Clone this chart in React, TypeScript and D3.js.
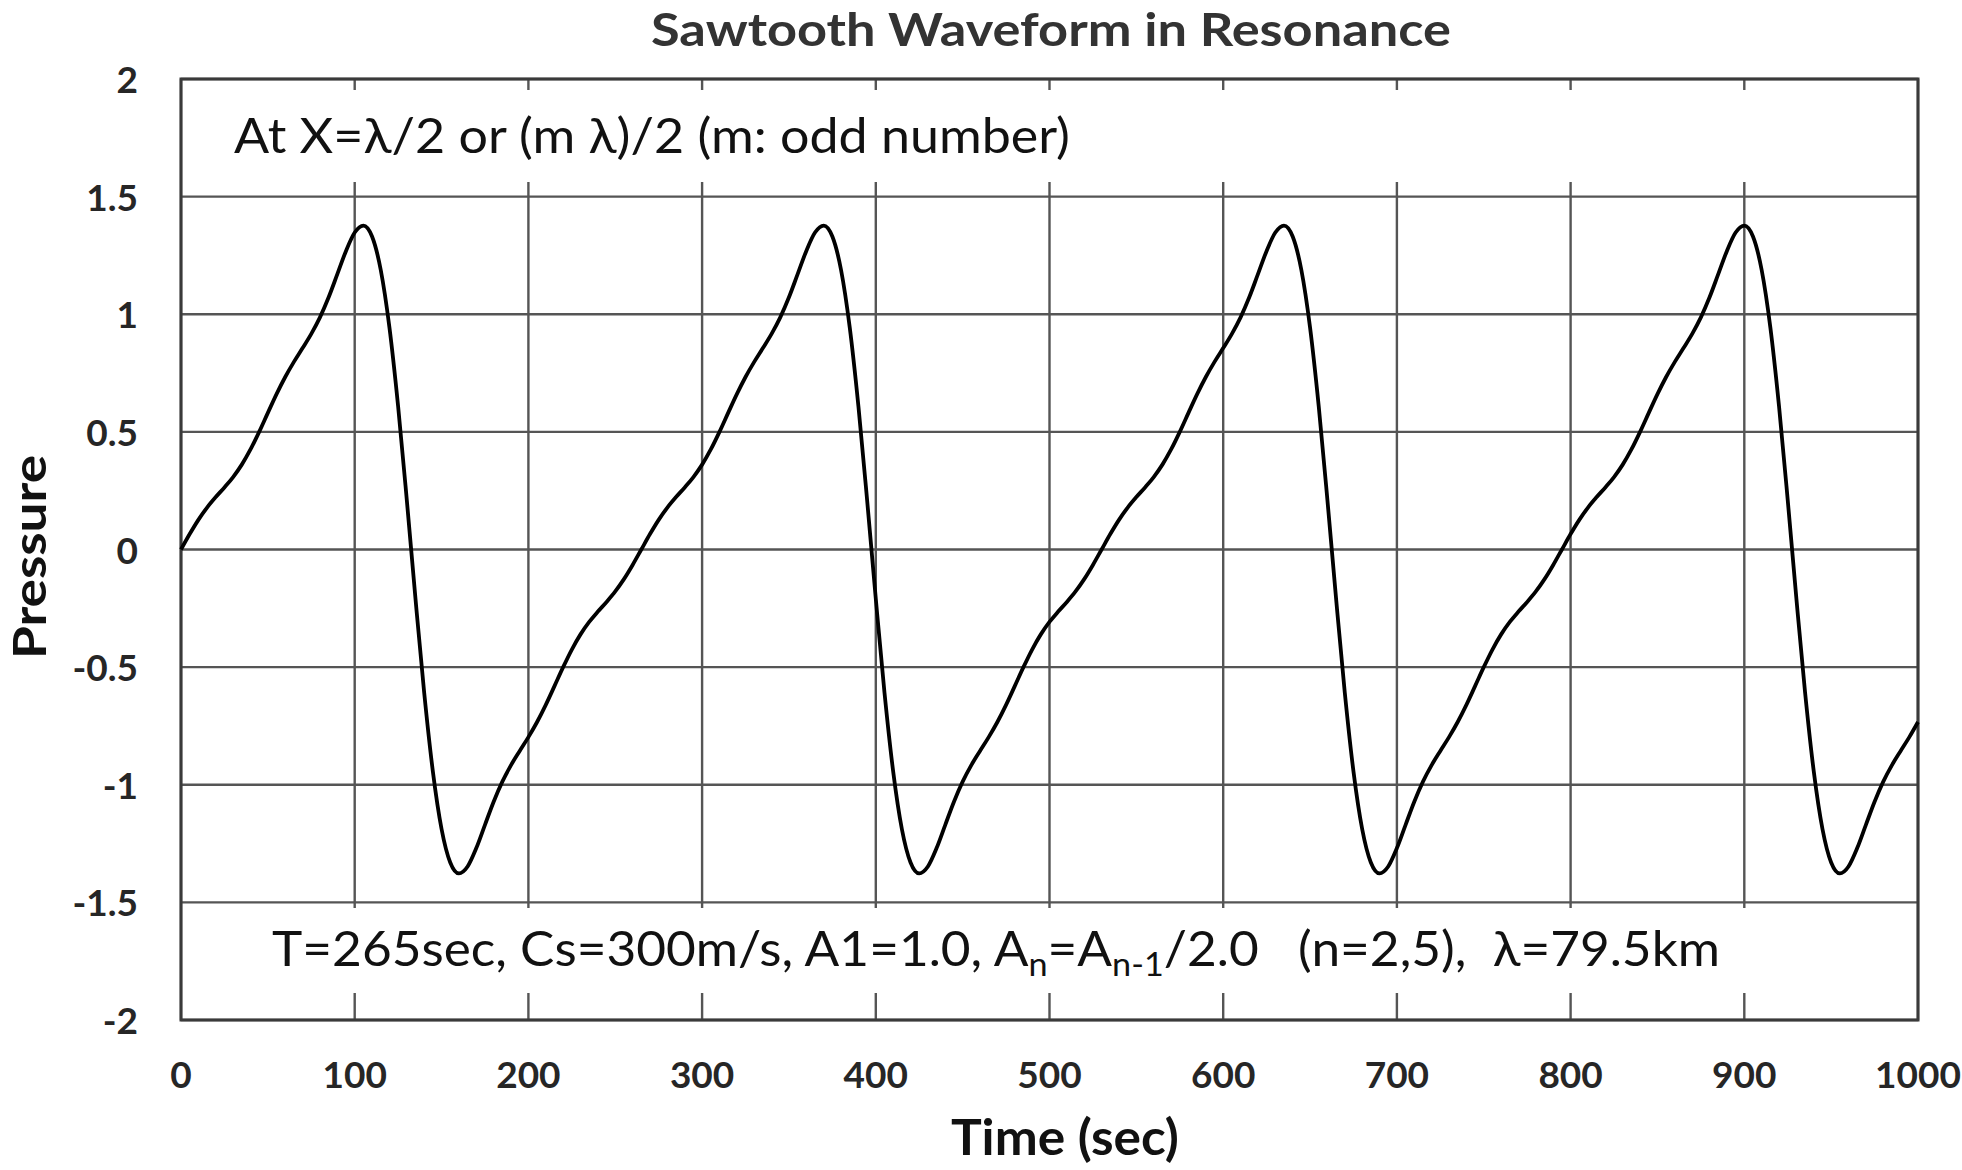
import { useEffect, useRef } from 'react'
import * as d3 from 'd3'

const WIDTH = 1962
const HEIGHT = 1170
const PLOT = { left: 181, right: 1918, top: 79, bottom: 1020 }

// pressure every 5 sec, t = 0 ... 1000
const SAMPLE_STEP = 5
const PRESSURE = [
  0, 0.0657, 0.1261, 0.1783, 0.2228, 0.2639, 0.308, 0.3608, 0.4252, 0.5002,
  0.5808, 0.6604, 0.7333, 0.7975, 0.8562, 0.9166, 0.9868, 1.0721, 1.1703, 1.2693,
  1.3474, 1.377, 1.3305, 1.1881, 0.9436, 0.6083, 0.2102, -0.2102, -0.6083, -0.9436,
  -1.1881, -1.3305, -1.377, -1.3474, -1.2693, -1.1703, -1.0721, -0.9868, -0.9166, -0.8562,
  -0.7975, -0.7333, -0.6604, -0.5808, -0.5002, -0.4252, -0.3608, -0.308, -0.2639, -0.2228,
  -0.1783, -0.1261, -0.0657,
  0, 0.0657, 0.1261, 0.1783, 0.2228, 0.2639, 0.308, 0.3608, 0.4252, 0.5002,
  0.5808, 0.6604, 0.7333, 0.7975, 0.8562, 0.9166, 0.9868, 1.0721, 1.1703, 1.2693,
  1.3474, 1.377, 1.3305, 1.1881, 0.9436, 0.6083, 0.2102, -0.2102, -0.6083, -0.9436,
  -1.1881, -1.3305, -1.377, -1.3474, -1.2693, -1.1703, -1.0721, -0.9868, -0.9166, -0.8562,
  -0.7975, -0.7333, -0.6604, -0.5808, -0.5002, -0.4252, -0.3608, -0.308, -0.2639, -0.2228,
  -0.1783, -0.1261, -0.0657,
  0, 0.0657, 0.1261, 0.1783, 0.2228, 0.2639, 0.308, 0.3608, 0.4252, 0.5002,
  0.5808, 0.6604, 0.7333, 0.7975, 0.8562, 0.9166, 0.9868, 1.0721, 1.1703, 1.2693,
  1.3474, 1.377, 1.3305, 1.1881, 0.9436, 0.6083, 0.2102, -0.2102, -0.6083, -0.9436,
  -1.1881, -1.3305, -1.377, -1.3474, -1.2693, -1.1703, -1.0721, -0.9868, -0.9166, -0.8562,
  -0.7975, -0.7333, -0.6604, -0.5808, -0.5002, -0.4252, -0.3608, -0.308, -0.2639, -0.2228,
  -0.1783, -0.1261, -0.0657,
  0, 0.0657, 0.1261, 0.1783, 0.2228, 0.2639, 0.308, 0.3608, 0.4252, 0.5002,
  0.5808, 0.6604, 0.7333, 0.7975, 0.8562, 0.9166, 0.9868, 1.0721, 1.1703, 1.2693,
  1.3474, 1.377, 1.3305, 1.1881, 0.9436, 0.6083, 0.2102, -0.2102, -0.6083, -0.9436,
  -1.1881, -1.3305, -1.377, -1.3474, -1.2693, -1.1703, -1.0721, -0.9868, -0.9166, -0.8562,
  -0.7975, -0.7333,
]

const TIME_TICKS = [0, 100, 200, 300, 400, 500, 600, 700, 800, 900, 1000]
const PRESSURE_TICKS = [2, 1.5, 1, 0.5, 0, -0.5, -1, -1.5, -2]

const TITLE = 'Sawtooth Waveform in Resonance'
const X_TITLE = 'Time (sec)'
const Y_TITLE = 'Pressure'
const NOTE_TOP = 'At X=λ/2 or (m λ)/2 (m: odd number)'

const FONT = 'Lato, "Open Sans", sans-serif'
const INK = '#262626'
const GRID = '#555'

export default function App() {
  const svgRef = useRef<SVGSVGElement | null>(null)

  useEffect(() => {
    if (!svgRef.current) {
      return
    }

    const svg = d3.select(svgRef.current)
    svg.selectAll('*').remove()

    const x = d3.scaleLinear().domain([0, 1000]).range([PLOT.left, PLOT.right])
    const y = d3.scaleLinear().domain([-2, 2]).range([PLOT.bottom, PLOT.top])

    svg.append('rect').attr('width', WIDTH).attr('height', HEIGHT).attr('fill', '#fff')

    const grid = svg.append('g').attr('stroke', GRID).attr('stroke-width', 2.4)

    grid
      .selectAll('line.v-grid')
      .data(TIME_TICKS)
      .enter()
      .append('line')
      .attr('class', 'v-grid')
      .attr('x1', (d: number) => x(d))
      .attr('x2', (d: number) => x(d))
      .attr('y1', PLOT.top)
      .attr('y2', PLOT.bottom)

    grid
      .selectAll('line.h-grid')
      .data(PRESSURE_TICKS)
      .enter()
      .append('line')
      .attr('class', 'h-grid')
      .attr('x1', PLOT.left)
      .attr('x2', PLOT.right)
      .attr('y1', (d: number) => y(d))
      .attr('y2', (d: number) => y(d))

    // white text boxes sitting on the grid
    svg
      .append('rect')
      .attr('x', PLOT.left + 3)
      .attr('y', 90)
      .attr('width', PLOT.right - PLOT.left - 6)
      .attr('height', 92)
      .attr('fill', '#fff')

    svg
      .append('rect')
      .attr('x', PLOT.left + 3)
      .attr('y', 908)
      .attr('width', PLOT.right - PLOT.left - 6)
      .attr('height', 85)
      .attr('fill', '#fff')

    svg
      .append('rect')
      .attr('x', PLOT.left)
      .attr('y', PLOT.top)
      .attr('width', PLOT.right - PLOT.left)
      .attr('height', PLOT.bottom - PLOT.top)
      .attr('fill', 'none')
      .attr('stroke', '#3a3a3a')
      .attr('stroke-width', 3)

    const line = d3
      .line<number>()
      .x((_: number, i: number) => x(i * SAMPLE_STEP))
      .y((d: number) => y(d))
      .curve(d3.curveMonotoneX)

    svg
      .append('path')
      .datum(PRESSURE)
      .attr('d', line)
      .attr('fill', 'none')
      .attr('stroke', '#000')
      .attr('stroke-width', 3.8)
      .attr('stroke-linejoin', 'round')

    svg
      .selectAll('text.y-tick')
      .data(PRESSURE_TICKS)
      .enter()
      .append('text')
      .attr('class', 'y-tick')
      .attr('x', 138)
      .attr('y', (d: number) => y(d) + 14)
      .attr('text-anchor', 'end')
      .attr('font-family', FONT)
      .attr('font-weight', 700)
      .attr('font-size', 37)
      .attr('fill', INK)
      .text((d: number) => String(d))

    svg
      .selectAll('text.x-tick')
      .data(TIME_TICKS)
      .enter()
      .append('text')
      .attr('class', 'x-tick')
      .attr('x', (d: number) => x(d))
      .attr('y', 1088)
      .attr('text-anchor', 'middle')
      .attr('font-family', FONT)
      .attr('font-weight', 700)
      .attr('font-size', 37)
      .attr('fill', INK)
      .text((d: number) => String(d))

    svg
      .append('text')
      .attr('x', 1051)
      .attr('y', 46)
      .attr('text-anchor', 'middle')
      .attr('font-family', FONT)
      .attr('font-weight', 700)
      .attr('font-size', 46)
      .attr('textLength', 800)
      .attr('lengthAdjust', 'spacingAndGlyphs')
      .attr('fill', '#333')
      .text(TITLE)

    svg
      .append('text')
      .attr('x', 1065)
      .attr('y', 1155)
      .attr('text-anchor', 'middle')
      .attr('font-family', FONT)
      .attr('font-weight', 700)
      .attr('font-size', 50)
      .attr('textLength', 228)
      .attr('lengthAdjust', 'spacingAndGlyphs')
      .attr('fill', '#111')
      .text(X_TITLE)

    svg
      .append('text')
      .attr('transform', 'translate(46, 557) rotate(-90)')
      .attr('text-anchor', 'middle')
      .attr('font-family', FONT)
      .attr('font-weight', 700)
      .attr('font-size', 46)
      .attr('textLength', 204)
      .attr('lengthAdjust', 'spacingAndGlyphs')
      .attr('fill', '#111')
      .text(Y_TITLE)

    svg
      .append('text')
      .attr('x', 234)
      .attr('y', 153)
      .attr('font-family', FONT)
      .attr('font-size', 48)
      .attr('textLength', 836)
      .attr('lengthAdjust', 'spacingAndGlyphs')
      .attr('fill', '#111')
      .text(NOTE_TOP)

    const note = svg
      .append('text')
      .attr('x', 272)
      .attr('y', 966)
      .attr('font-family', FONT)
      .attr('font-size', 48)
      .attr('textLength', 1448)
      .attr('lengthAdjust', 'spacingAndGlyphs')
      .attr('fill', '#111')
      .style('white-space', 'pre')

    note.append('tspan').text('T=265sec, Cs=300m/s, A1=1.0, A')
    note.append('tspan').attr('font-size', 32).attr('dy', 10).text('n')
    note.append('tspan').attr('dy', -10).text('=A')
    note.append('tspan').attr('font-size', 32).attr('dy', 10).text('n-1')
    note.append('tspan').attr('dy', -10).text('/2.0   (n=2,5),  λ=79.5km')
  }, [])

  return (
    <svg
      ref={svgRef}
      width={WIDTH}
      height={HEIGHT}
      style={{ position: 'absolute', left: 0, top: 0 }}
      role="img"
      aria-label="Sawtooth waveform in resonance, pressure against time"
    />
  )
}
